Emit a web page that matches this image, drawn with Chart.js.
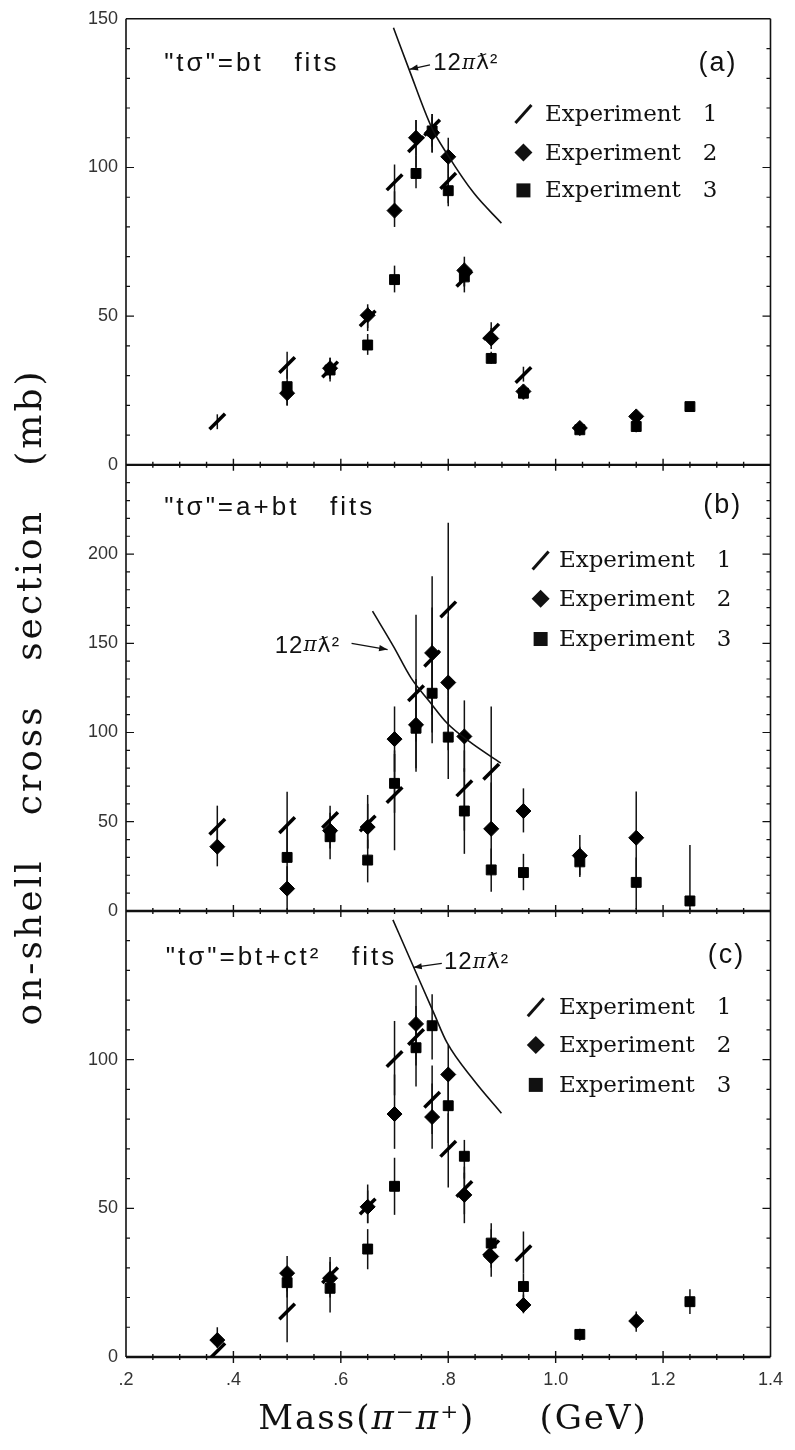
<!DOCTYPE html>
<html>
<head>
<meta charset="utf-8">
<script src="https://cdn.jsdelivr.net/npm/chart.js@4.4.1/dist/chart.umd.min.js"></script>
<style>
  html, body { margin: 0; padding: 0; background: #fff; }
  #wrap { width: 795px; height: 1450px; }
</style>
</head>
<body>
<div id="wrap"><canvas id="chart" width="795" height="1450"></canvas></div>
<script>
// masses (GeV) where the points sit
var masses = [0.37, 0.50, 0.58, 0.65, 0.70, 0.74, 0.77, 0.80, 0.83, 0.88, 0.94, 1.045, 1.15, 1.25];

// (a) "t sigma" = bt fits
var a_exp1 = [14.6, 33.6, 32.1, 49.2, 95.0, 107.8, 113.4, 95.5, 62.6, 44.8, 30.2, null, null, null];
var a_exp1_err = [[12,17],[29,38],[29,36],[45,53],[85,101],[100,116],[105,118],[88,104],[58,68],[41,48],[28,33],null,null,null];
var a_exp2 = [null, 24.1, 32.5, 50.3, 85.5, 110.0, 111.7, 103.6, 65.4, 42.5, 24.7, 12.4, 16.3, null];
var a_exp2_err = [null,[20,28],[29,36],[46,54],[80,92],[104,116],[105,118],[98,110],[60,70],[39,46],[22,27],[11,14],[13,18],null];
var a_exp3 = [null, 26.3, 31.9, 40.3, 62.3, 98.0, 112.3, 92.2, 63.2, 35.8, 24.1, 11.8, 12.9, 19.6];
var a_exp3_err = [null,[20,32],[28,35],[37,44],[58,67],[93,104],[107,117],[87,98],[60,66],[34,38],[22,26],[10,13],[11,15],[18,21]];

// (b) a+bt fits
var b_exp1 = [47.2, 48.1, 51.0, 49.0, 65.0, 122.0, 141.4, 169.0, 68.7, 78.0, null, null, null, null];
var b_exp1_err = [[35,59],[30,66.8],[41,59],[35,65],[34,90],[95,166],[110,170],[120,217.6],[45,90],[45,114.6],null,null,null,null];
var b_exp2 = [36.0, 12.5, 45.0, 47.0, 96.3, 104.3, 144.6, 128.0, 97.8, 46.0, 56.0, 31.0, 41.0, null];
var b_exp2_err = [[25,47],[0,25],[35,55],[35,60],[78,114.6],[78,130],[100,187.6],[90,165],[78,118],[20,72],[44,68.7],[20,42.5],[16,67],null];
var b_exp3 = [null, 30.0, 41.6, 28.5, 71.5, 102.4, 122.0, 97.4, 56.0, 23.0, 21.5, 27.5, 16.0, 5.6];
var b_exp3_err = [null,[12,48],[29,52],[16,40],[55,88],[80,125],[94,150],[74,120],[32,80],[10.7,35],[11.6,32],[19,36],[1,30],[0,37]];

// (c) bt+ct^2 fits
var c_exp1 = [2.0, 15.3, 27.5, 50.6, 100.2, 107.6, 86.5, 70.0, 56.5, 36.6, 34.9, null, null, null];
var c_exp1_err = [null,[5,25],[22,33.6],[45,58],[88,113],[98,118],[75,98],[57,82],[48,64],[30,43],[28,42.2],null,null,null];
var c_exp2 = [5.7, 28.2, 26.5, 50.5, 81.7, 112.0, 80.7, 95.0, 54.5, 33.8, 17.5, null, 12.1, null];
var c_exp2_err = [[3,10],[22,34],[20,32],[45,56],[70,95],[100,125],[70,92],[85,105],[45,62],[27,40],[14.7,21],null,[8.5,15.3],null];
var c_exp3 = [null, 25.0, 23.1, 36.3, 57.4, 104.0, 111.4, 84.5, 67.5, 38.3, 23.7, 7.6, null, 18.6];
var c_exp3_err = [null,[20,30],[15,29],[29.5,43],[47.8,67],[91,115],[100,122],[72,96],[60,73],[33,45],[20,28],[5.5,9.5],null,[14.5,22.8]];

// 12 pi lambdabar^2 curves
var a_curve_m = [0.698, 0.727, 0.769, 0.798, 0.848, 0.899];
var a_curve_v = [147, 133, 113.5, 104.5, 91.3, 81.3];
var b_curve_m = [0.659, 0.698, 0.731, 0.765, 0.798, 0.839, 0.898];
var b_curve_v = [168, 148.3, 130.5, 117.4, 105.2, 95, 82.8];
var c_curve_m = [0.697, 0.731, 0.773, 0.798, 0.848, 0.899];
var c_curve_v = [147, 133, 115.7, 105.6, 93, 82];

var xTicks = [0.2, 0.4, 0.6, 0.8, 1.0, 1.2, 1.4];

function pts(vals, errs) {
  var out = [];
  vals.forEach(function (v, i) {
    if (v === null) return;
    var e = errs[i];
    out.push({x: masses[i], y: v, lo: e ? e[0] : null, hi: e ? e[1] : null});
  });
  return out;
}
function curve(ms, vs) {
  return ms.map(function (m, i) { return {x: m, y: vs[i]}; });
}

var slash = {pointStyle: 'line', rotation: -45, pointRadius: 11, pointBorderWidth: 3.5, borderColor: '#000', errorBars: true};
var diamond = {pointStyle: 'rectRot', pointRadius: 7.5, pointBorderWidth: 1, borderColor: '#000', backgroundColor: '#000', errorBars: true};
var square = {pointStyle: 'rect', pointRadius: 7, pointBorderWidth: 1, borderColor: '#000', backgroundColor: '#000', errorBars: true};
var line = {showLine: true, pointRadius: 0, borderWidth: 1.6, borderColor: '#111', cubicInterpolationMode: 'monotone', fill: false};

function ds(base, extra) { return Object.assign({}, base, extra); }

var datasets = [
  ds(line, {yAxisID: 'yA', data: curve(a_curve_m, a_curve_v)}),
  ds(square, {yAxisID: 'yA', data: pts(a_exp3, a_exp3_err)}),
  ds(diamond, {yAxisID: 'yA', data: pts(a_exp2, a_exp2_err)}),
  ds(slash, {yAxisID: 'yA', data: pts(a_exp1, a_exp1_err)}),
  ds(line, {yAxisID: 'yB', data: curve(b_curve_m, b_curve_v)}),
  ds(square, {yAxisID: 'yB', data: pts(b_exp3, b_exp3_err)}),
  ds(diamond, {yAxisID: 'yB', data: pts(b_exp2, b_exp2_err)}),
  ds(slash, {yAxisID: 'yB', data: pts(b_exp1, b_exp1_err)}),
  ds(line, {yAxisID: 'yC', data: curve(c_curve_m, c_curve_v)}),
  ds(square, {yAxisID: 'yC', data: pts(c_exp3, c_exp3_err)}),
  ds(diamond, {yAxisID: 'yC', data: pts(c_exp2, c_exp2_err)}),
  ds(slash, {yAxisID: 'yC', data: pts(c_exp1, c_exp1_err)})
];

// text placed in value space of each panel
var panels = [
  {y: 'yA', title: '"tσ"=bt   fits', titleAt: [0.271, 135], tag: '(a)', tagAt: [1.266, 135],
   legSym: 0.94, legText: 0.98, legRows: [118, 105, 92.3],
   lamAt: [0.772, 135], arrow: [[0.766, 134.5], [0.728, 133]]},
  {y: 'yB', title: '"tσ"=a+bt   fits', titleAt: [0.271, 226], tag: '(b)', tagAt: [1.275, 227],
   legSym: 0.972, legText: 1.006, legRows: [196.4, 175, 152.4],
   lamAt: [0.477, 148.5], arrow: [[0.62, 150], [0.687, 146.5]]},
  {y: 'yC', title: '"tσ"=bt+ct²   fits', titleAt: [0.274, 134.3], tag: '(c)', tagAt: [1.283, 135],
   legSym: 0.963, legText: 1.006, legRows: [117.6, 104.9, 91.5],
   lamAt: [0.792, 132.6], arrow: [[0.788, 132.4], [0.735, 131]]}
];

var errorBars = {
  id: 'errorBars',
  beforeDatasetsDraw: function (chart) {
    var ctx = chart.ctx, xs = chart.scales.x;
    ctx.save();
    ctx.strokeStyle = '#111';
    ctx.lineWidth = 1.5;
    chart.data.datasets.forEach(function (d) {
      if (!d.errorBars) return;
      var ys = chart.scales[d.yAxisID];
      d.data.forEach(function (p) {
        if (p.lo === null) return;
        var x = xs.getPixelForValue(p.x);
        ctx.beginPath();
        ctx.moveTo(x, ys.getPixelForValue(p.lo));
        ctx.lineTo(x, ys.getPixelForValue(p.hi));
        ctx.stroke();
      });
    });
    ctx.restore();
  }
};

var frame = {
  id: 'frame',
  beforeDatasetsDraw: function (chart) {
    var ctx = chart.ctx, ca = chart.chartArea, xs = chart.scales.x;
    ctx.save();
    ctx.strokeStyle = '#111';
    ctx.lineWidth = 1.6;
    ctx.beginPath();
    ctx.moveTo(ca.left, ca.top); ctx.lineTo(ca.right, ca.top);
    ctx.moveTo(ca.left, ca.top); ctx.lineTo(ca.left, ca.bottom);
    ctx.moveTo(ca.right, ca.top); ctx.lineTo(ca.right, ca.bottom);
    ctx.stroke();
    ['yA', 'yB', 'yC'].forEach(function (id) {
      var s = chart.scales[id];
      ctx.lineWidth = 1.2;
      ctx.beginPath();
      for (var v = 10; v < s.max; v += 10) {
        var y = s.getPixelForValue(v), len = v % 50 === 0 ? 8 : 4;
        ctx.moveTo(ca.left, y); ctx.lineTo(ca.left + len, y);
        ctx.moveTo(ca.right, y); ctx.lineTo(ca.right - len, y);
      }
      ctx.stroke();
      var y0 = s.getPixelForValue(0);
      ctx.lineWidth = 2.4;
      ctx.beginPath();
      ctx.moveTo(ca.left, y0); ctx.lineTo(ca.right, y0);
      ctx.stroke();
      ctx.lineWidth = 1.4;
      ctx.beginPath();
      for (var k = 5; k < 28; k++) {
        var x = xs.getPixelForValue(k * 0.05), big = k % 4 === 0 ? 6 : 3;
        ctx.moveTo(x, y0 - big); ctx.lineTo(x, y0 + big);
      }
      ctx.stroke();
    });
    ctx.restore();
  }
};

function mark(ctx, kind, x, y) {
  ctx.beginPath();
  if (kind === 0) {
    ctx.lineWidth = 3;
    ctx.moveTo(x - 8, y + 9); ctx.lineTo(x + 8, y - 9);
    ctx.stroke();
  } else if (kind === 1) {
    ctx.moveTo(x, y - 9); ctx.lineTo(x + 9, y); ctx.lineTo(x, y + 9); ctx.lineTo(x - 9, y);
    ctx.closePath(); ctx.fill();
  } else {
    ctx.fillRect(x - 7, y - 7, 14, 14);
  }
}

// draw a row of [text, font] runs, starting at x
function runs(ctx, parts, x, y) {
  parts.forEach(function (p) {
    ctx.font = p[1];
    ctx.fillText(p[0], x, y);
    x += ctx.measureText(p[0]).width;
  });
}
function runsWidth(ctx, parts) {
  var w = 0;
  parts.forEach(function (p) { ctx.font = p[1]; w += ctx.measureText(p[0]).width; });
  return w;
}

var texts = {
  id: 'texts',
  afterDatasetsDraw: function (chart) {
    var ctx = chart.ctx, xs = chart.scales.x;
    ctx.save();
    ctx.fillStyle = '#111';
    ctx.strokeStyle = '#111';
    ctx.textBaseline = 'middle';
    ctx.textAlign = 'left';
    var sans = '"Liberation Sans", "DejaVu Sans", sans-serif';
    panels.forEach(function (p) {
      var ys = chart.scales[p.y];
      var X = function (m) { return xs.getPixelForValue(m); };
      var Y = function (v) { return ys.getPixelForValue(v); };
      ctx.font = '26px ' + sans;
      ctx.letterSpacing = '3px';
      ctx.fillText(p.title, X(p.titleAt[0]), Y(p.titleAt[1]));
      ctx.letterSpacing = '2px';
      ctx.font = '27px ' + sans;
      ctx.fillText(p.tag, X(p.tagAt[0]), Y(p.tagAt[1]));
      ctx.letterSpacing = '0px';
      ctx.font = '23px "DejaVu Serif", serif';
      ['Experiment   1', 'Experiment   2', 'Experiment   3'].forEach(function (t, i) {
        var y = Y(p.legRows[i]);
        mark(ctx, i, X(p.legSym), y);
        ctx.fillText(t, X(p.legText), y + 1);
      });
      ctx.letterSpacing = '1px';
      runs(ctx, [['12', '24px ' + sans], ['π', 'italic 20px "DejaVu Serif", serif'],
                 ['ƛ', '22px "DejaVu Sans", sans-serif'], ['²', '22px ' + sans]],
           X(p.lamAt[0]), Y(p.lamAt[1]));
      ctx.letterSpacing = '0px';
      var x1 = X(p.arrow[0][0]), y1 = Y(p.arrow[0][1]);
      var x2 = X(p.arrow[1][0]), y2 = Y(p.arrow[1][1]);
      ctx.lineWidth = 1.3;
      ctx.beginPath(); ctx.moveTo(x1, y1); ctx.lineTo(x2, y2); ctx.stroke();
      var ang = Math.atan2(y2 - y1, x2 - x1);
      ctx.beginPath();
      ctx.moveTo(x2, y2);
      ctx.lineTo(x2 - 9 * Math.cos(ang - 0.35), y2 - 9 * Math.sin(ang - 0.35));
      ctx.lineTo(x2 - 9 * Math.cos(ang + 0.35), y2 - 9 * Math.sin(ang + 0.35));
      ctx.closePath(); ctx.fill();
    });
    // axis titles
    ctx.font = '36px "DejaVu Serif", serif';
    ctx.letterSpacing = '3px';
    ctx.textAlign = 'center';
    ctx.save();
    ctx.translate(32, 697);
    ctx.rotate(-Math.PI / 2);
    ctx.fillText('on-shell   cross   section   (mb)', 0, 0);
    ctx.restore();
    ctx.textAlign = 'left';
    ctx.letterSpacing = '2px';
    var serif = '34px "DejaVu Serif", serif', pi = 'italic 34px "DejaVu Serif", serif';
    var xt = [['Mass(', serif], ['π', pi], ['⁻', serif], ['π', pi], ['⁺)', serif], ['     (GeV)', serif]];
    runs(ctx, xt, 453 - runsWidth(ctx, xt) / 2, 1420);
    ctx.restore();
  }
};

function yScale(max, weight) {
  return {
    type: 'linear', position: 'left', stack: 'panels', stackWeight: 1, weight: weight,
    min: 0, max: max,
    grid: {display: false, drawTicks: false},
    border: {display: false},
    ticks: {
      stepSize: 50, autoSkip: false, padding: 8, color: '#333',
      font: {family: '"Liberation Sans", sans-serif', size: 18},
      callback: function (v) { return (v === max && weight !== 3) ? '' : String(v); }
    },
    afterFit: function (s) { s.width = 42; }
  };
}

new Chart(document.getElementById('chart'), {
  type: 'scatter',
  data: {datasets: datasets},
  options: {
    responsive: false,
    animation: false,
    events: [],
    layout: {padding: {left: 84, right: 24, top: 18, bottom: 0}},
    plugins: {legend: {display: false}, tooltip: {enabled: false}},
    scales: {
      x: {
        type: 'linear', position: 'bottom', min: 0.2, max: 1.4,
        grid: {display: false, drawTicks: false},
        border: {display: false},
        afterBuildTicks: function (s) { s.ticks = xTicks.map(function (v) { return {value: v}; }); },
        ticks: {
          autoSkip: false, padding: 12, color: '#333', maxRotation: 0,
          font: {family: '"Liberation Sans", sans-serif', size: 18},
          callback: function (v) {
            var r = Math.round(v * 10) / 10;
            return r < 1 ? '.' + Math.round(r * 10) : r.toFixed(1);
          }
        },
        afterFit: function (s) { s.height = 93; }
      },
      yA: yScale(150, 3),
      yB: yScale(250, 2),
      yC: yScale(150, 1)
    }
  },
  plugins: [frame, errorBars, texts]
});
</script>
</body>
</html>
